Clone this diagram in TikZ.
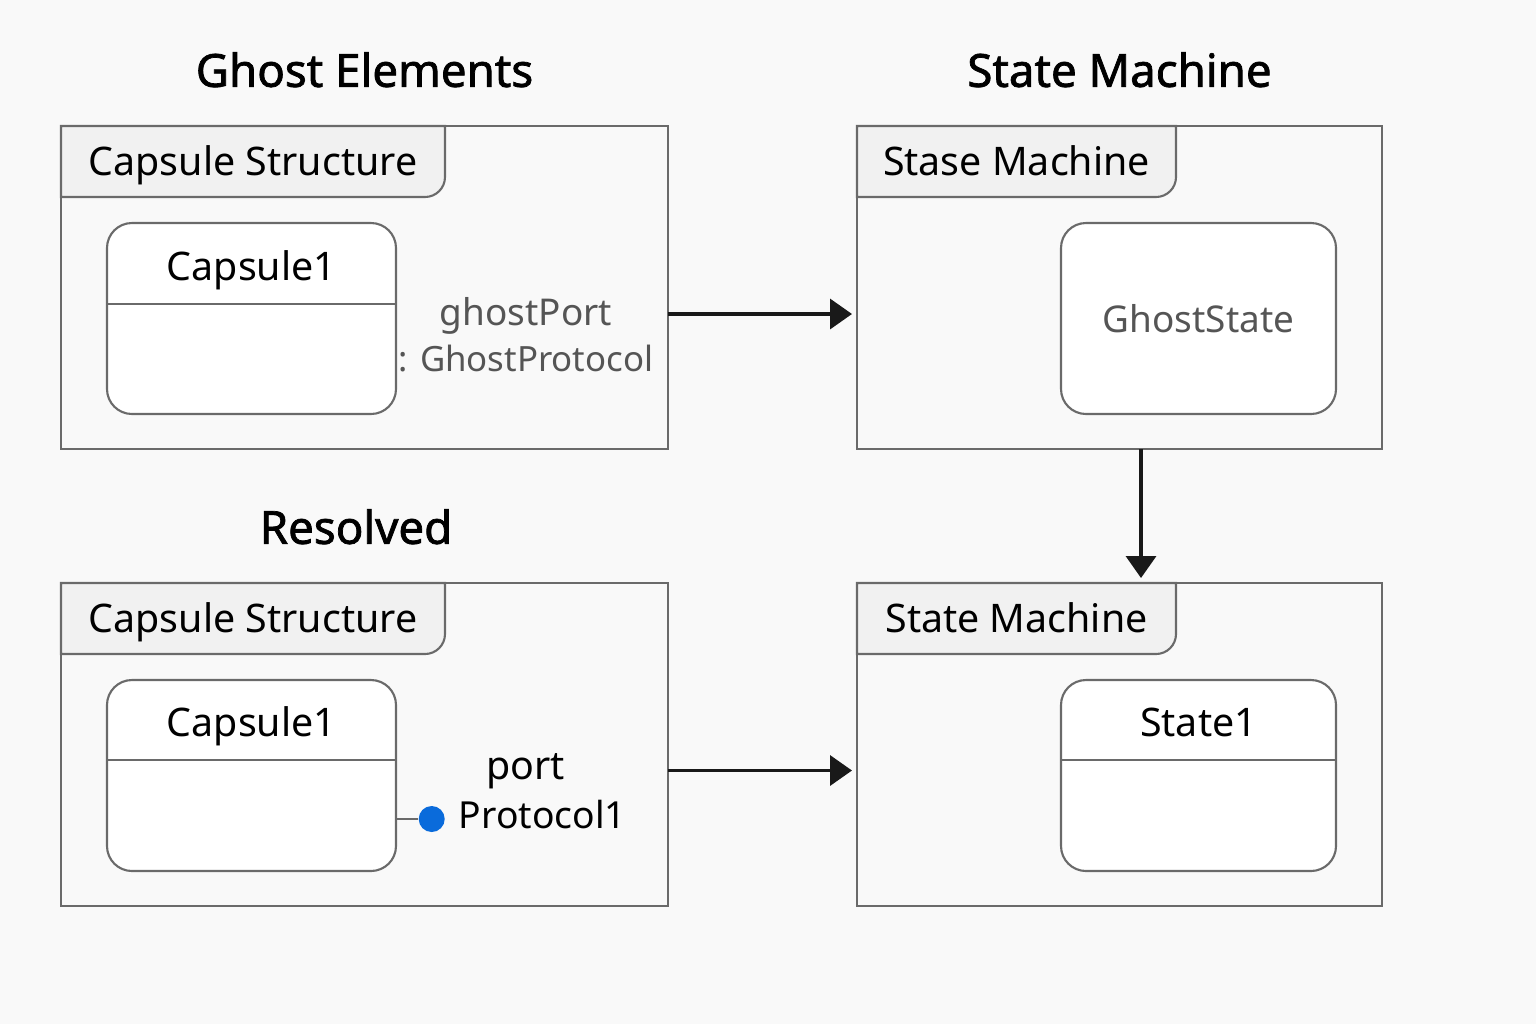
\documentclass[tikz,border=0pt]{standalone}
\usepackage{fontspec}
\setmainfont{Noto Sans}
\newfontfamily\headfont{Noto Sans}[FakeBold=1.6]
\usepackage{xcolor}
\usepackage{tikz}
\usetikzlibrary{arrows.meta, positioning, backgrounds}
\definecolor{framegray}{HTML}{6A6A6A}
\definecolor{tabfill}{HTML}{F1F1F1}
\definecolor{pagebg}{HTML}{F9F9F9}
\definecolor{ghostgray}{HTML}{555555}
\definecolor{portblue}{HTML}{0A6BDB}

\begin{document}
\begin{tikzpicture}[
        umlframe/.style = {draw=framegray, line width=0.6pt, inner sep=0pt, outer sep=0pt, minimum height=3.23cm},
        frametab/.style = {inner sep=0pt, outer sep=0pt, text height=0.49cm, text depth=0.22cm, font=\fontsize{11.2}{13}\selectfont},
        tabline/.style = {draw=framegray, fill=tabfill, line width=0.6pt},
        capsbox/.style = {draw=framegray, fill=white, line width=0.6pt, rounded corners=0.25cm, minimum height=1.91cm, inner sep=0pt, outer sep=0pt},
        divider/.style = {draw=framegray, line width=0.6pt},
        boxtext/.style = {inner sep=0pt, font=\fontsize{11.2}{13}\selectfont},
        ghosttext/.style = {inner sep=0pt, text=ghostgray, font=\fontsize{10.5}{13}\selectfont},
        heading/.style = {inner sep=0pt, font=\fontsize{13}{15}\selectfont\headfont},
        portdot/.style = {circle, fill=portblue, minimum size=0.26cm, inner sep=0pt},
        portline/.style = {draw=framegray, line width=0.6pt},
        arrow/.style = {draw=black!90, line width=1pt, -{Triangle[length=0.22cm, width=0.30cm]}, shorten >=0.05cm}
    ]

        \begin{scope}[on background layer]
            \fill[pagebg] (0,0) rectangle (15.36,-10.24);
        \end{scope}
        \useasboundingbox (0,0) rectangle (15.36,-10.24);

        % === Frames ===
        \node (ghostCap) [umlframe, minimum width=6.07cm] at (3.645,-2.875) {};
        \node (ghostSM) [umlframe, minimum width=5.25cm, right=1.89cm of ghostCap] {};
        \node (resCap) [umlframe, minimum width=6.07cm, below=1.34cm of ghostCap] {};
        \node (resSM) [umlframe, minimum width=5.25cm, below=1.34cm of ghostSM] {};

        % === Headings ===
        \node (ghostTitle) [heading, above=0.38cm of ghostCap] {Ghost Elements};
        \node (smTitle) [heading, above=0.38cm of ghostSM] {State Machine};
        \node (resTitle) [heading, above=0.38cm of resCap, xshift=-0.085cm] {Resolved};

        % === Tabs ===
        \node (ghostCapTab) [frametab, minimum width=3.84cm, below right=0cm and 0cm of ghostCap.north west] {Capsule Structure};
        \node (ghostSMTab) [frametab, minimum width=3.19cm, below right=0cm and 0cm of ghostSM.north west] {Stase Machine};
        \node (resCapTab) [frametab, minimum width=3.84cm, below right=0cm and 0cm of resCap.north west] {Capsule Structure};
        \node (resSMTab) [frametab, minimum width=3.19cm, below right=0cm and 0cm of resSM.north west] {State Machine};

        % === Ghost side ===
        \node (ghostCapsule) [capsbox, minimum width=2.89cm, below right=0.26cm and 0.46cm of ghostCapTab.south west] {};
        \draw [divider] ([yshift=-0.81cm]ghostCapsule.north west) -- ([yshift=-0.81cm]ghostCapsule.north east);
        \node (ghostCapsuleName) [boxtext, anchor=base] at ([yshift=-0.57cm]ghostCapsule.north) {Capsule1};

        \node (ghostPortName) [ghosttext, anchor=base] at ([xshift=1.30cm, yshift=-0.065cm]ghostCapsule.east) {ghostPort};
        \node (ghostPortType) [ghosttext, anchor=base, font=\fontsize{9.9}{13}\selectfont] at ([yshift=-0.467cm]ghostPortName.base) {: GhostProtocol};

        \node (ghostState) [capsbox, minimum width=2.75cm, below left=0.97cm and 0.46cm of ghostSM.north east, ghosttext] {GhostState};

        % === Resolved side ===
        \node (resCapsule) [capsbox, minimum width=2.89cm, below right=0.26cm and 0.46cm of resCapTab.south west] {};
        \draw [divider] ([yshift=-0.80cm]resCapsule.north west) -- ([yshift=-0.80cm]resCapsule.north east);
        \node (resCapsuleName) [boxtext, anchor=base] at ([yshift=-0.56cm]resCapsule.north) {Capsule1};

        \node (resPort) [portdot, right=0.22cm of resCapsule.east, yshift=-0.435cm] {};
        \draw [portline] (resPort.west -| resCapsule.east) -- (resPort.west);
        \node (resPortName) [boxtext, anchor=base] at ([xshift=1.295cm, yshift=-0.035cm]resCapsule.east) {port};
        \node (resProtocol) [boxtext, anchor=base west, font=\fontsize{10.6}{13}\selectfont] at ([xshift=0.265cm, yshift=-0.093cm]resPort.center) {Protocol1};

        \node (resState) [capsbox, minimum width=2.75cm, below left=0.97cm and 0.46cm of resSM.north east] {};
        \draw [divider] ([yshift=-0.80cm]resState.north west) -- ([yshift=-0.80cm]resState.north east);
        \node (resStateName) [boxtext, anchor=base] at ([yshift=-0.56cm]resState.north) {State1};

        % === Arrows ===
        \coordinate (ghostLink) at ([yshift=-0.265cm]ghostCap.east);
        \coordinate (resLink) at ([yshift=-0.26cm]resCap.east);
        \coordinate (smLink) at ([xshift=0.215cm]ghostSM.south);
        \draw [arrow] (ghostLink) -- (ghostLink -| ghostSM.west);
        \draw [arrow] (resLink) -- (resLink -| resSM.west);
        \draw [arrow] (smLink) -- (smLink |- resSM.north);

        % Tab outlines (behind tab texts)
        \begin{scope}[on background layer]
            \foreach \t in {ghostCapTab, ghostSMTab, resCapTab, resSMTab} {
                \draw [tabline] (\t.north west) -- (\t.north east) -- ([yshift=0.2cm]\t.south east)
                    arc[start angle=0, end angle=-90, radius=0.2cm] -- (\t.south west) -- cycle;
            }
        \end{scope}

    \end{tikzpicture}
\end{document}
